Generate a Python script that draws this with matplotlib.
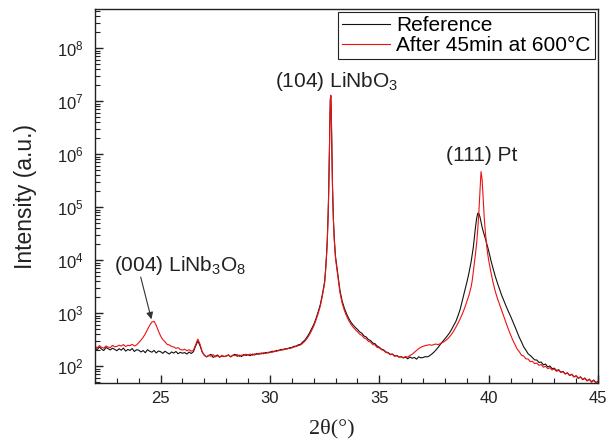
import numpy as np
import matplotlib
matplotlib.use("Agg")
import matplotlib.pyplot as plt
from matplotlib.ticker import MultipleLocator, LogLocator

plt.rcParams['font.family'] = ['Liberation Sans', 'DejaVu Sans']
plt.rcParams['mathtext.fontset'] = 'custom'
plt.rcParams['mathtext.rm'] = 'Liberation Sans'
plt.rcParams['mathtext.it'] = 'Liberation Sans:italic'
plt.rcParams['mathtext.default'] = 'regular'

# ---- sampling grid (2theta, degrees) ----
def seg(a, b, s):
    return np.round(np.arange(a, b + s / 2, s), 3)

two_theta = np.concatenate([seg(22.0, 32.4, 0.1), seg(32.5, 33.0, 0.02),
                            seg(33.1, 39.2, 0.1), seg(39.25, 40.0, 0.05),
                            seg(40.1, 45.0, 0.1)])

# ---- Reference (black) intensities ----
ref_intensity = [
    222, 205, 231, 210, 198, 226, 214, 203, 219, 208,
    196, 214, 201, 220, 193, 207, 199, 216, 190, 205,
    201, 186, 198, 180, 205, 192, 184, 199, 178, 194,
    188, 175, 192, 180, 170, 186, 177, 190, 172, 183,
    176, 181, 170, 185, 174, 188, 240, 300, 245, 185,
    162, 150, 158, 168, 147, 155, 163, 149, 157, 152,
    156, 164, 150, 160, 168, 154, 162, 152, 166, 160,
    165, 158, 170, 163, 174, 168, 178, 172, 182, 178,
    183, 192, 188, 199, 196, 208, 203, 215, 212, 224,
    226, 238, 240, 254, 260, 288, 312, 358, 418, 505,
    610, 780, 1050, 1450, 2300,
    # 32.50 - 33.00 step 0.02
    4000, 5000, 6500, 8500, 11500, 16000, 24000, 40000, 75000, 160000,
    420000, 1.3e6, 4.5e6, 1.1e7, 1.25e7, 7e6, 2.2e6, 6.5e5, 2.4e5, 1.1e5,
    6e4, 3.8e4, 2.6e4, 1.9e4, 1.45e4, 1.15e4,
    # 33.1 - 39.2
    5500, 2700, 1700, 1250, 980, 800, 680, 600, 540,
    495, 445, 420, 372, 356, 318, 305, 274, 266, 240,
    228, 210, 203, 186, 181, 168, 170, 156, 160, 148,
    152, 143, 149, 138, 150, 141, 147, 136, 151, 144,
    146, 152, 150, 158, 170, 185, 205, 230, 262, 295,
    330, 370, 420, 490, 590, 700, 900, 1200, 1750, 2600,
    3800, 5800, 9500,
    # 39.25 - 40.00 step 0.05
    13000, 18000, 28000, 43000, 62000, 77000, 76000, 66000, 53000, 42000,
    35000, 30000, 25500, 21500, 18000, 15000,
    # 40.1 - 45.0
    10000, 7000, 5000, 3700, 2800, 2150, 1700, 1350, 1080,
    880, 705, 560, 440, 350, 288, 232, 202, 172, 160,
    145, 132, 131, 118, 120, 106, 110, 97, 101, 90,
    92, 83, 86, 77, 80, 72, 75, 67, 70, 63,
    66, 59, 63, 56, 60, 53, 57, 51, 55, 49,
    52,
]

# ---- After 45 min at 600 C (red) intensities ----
ann_intensity = [
    238, 222, 245, 228, 219, 241, 230, 224, 247, 233,
    236, 250, 240, 257, 235, 248, 244, 259, 241, 252,
    280, 310, 350, 410, 490, 590, 680, 705, 590, 460,
    372, 318, 290, 258, 252, 236, 231, 218, 224, 207,
    202, 210, 196, 205, 192, 200, 255, 325, 262, 188,
    160, 151, 162, 154, 166, 150, 158, 147, 161, 153,
    155, 163, 151, 162, 158, 167, 153, 164, 158, 169,
    163, 170, 160, 172, 166, 176, 170, 180, 174, 183,
    186, 182, 194, 190, 202, 199, 210, 207, 218, 216,
    222, 230, 236, 245, 252, 272, 298, 335, 390, 465,
    570, 730, 980, 1350, 2150,
    # 32.50 - 33.00 step 0.02
    3700, 4600, 6000, 7900, 10700, 15000, 22500, 38000, 72000, 155000,
    410000, 1.25e6, 4.3e6, 1.05e7, 1.3e7, 7.5e6, 2.3e6, 6.6e5, 2.3e5, 1.05e5,
    5.6e4, 3.5e4, 2.4e4, 1.75e4, 1.35e4, 1.05e4,
    # 33.1 - 39.2
    5000, 2450, 1550, 1130, 890, 730, 620, 545, 490,
    448, 404, 382, 342, 328, 294, 286, 256, 252, 226,
    222, 205, 198, 182, 178, 165, 168, 154, 158, 150,
    150, 145, 153, 148, 160, 168, 182, 198, 215, 228,
    238, 245, 250, 255, 248, 258, 262, 255, 270, 282,
    298, 322, 355, 400, 462, 545, 650, 790, 980, 1250,
    1650, 2200, 3200,
    # 39.25 - 40.00 step 0.05
    4200, 6200, 9000, 13500, 21000, 38000, 80000, 200000, 470000, 330000,
    140000, 60000, 33000, 20000, 13500, 10000,
    # 40.1 - 45.0
    6000, 3800, 2600, 1900, 1450, 1100, 850, 650, 500,
    392, 312, 258, 212, 188, 161, 156, 138, 137, 122,
    124, 112, 115, 104, 108, 96, 100, 90, 94, 85,
    89, 80, 84, 76, 79, 71, 75, 67, 71, 63,
    66, 60, 63, 56, 59, 53, 57, 50, 54, 49,
    51,
]

series_labels = ["Reference", "After 45min at 600\u00b0C"]
peak_labels = ["(104) LiNbO$_3$", "(111) Pt", "(004) LiNb$_3$O$_8$"]
x_ticks = [25, 30, 35, 40, 45]

assert len(two_theta) == len(ref_intensity) == len(ann_intensity)

fig = plt.figure(figsize=(6.09, 4.45), dpi=100)
ax = fig.add_axes([0.156, 0.139, 0.826, 0.841])

ax.plot(two_theta, ref_intensity, color='#111111', lw=0.8, label=series_labels[0])
ax.plot(two_theta, ann_intensity, color='#ee1111', lw=0.8, label=series_labels[1])

ax.set_yscale('log')
ax.set_xlim(22, 45)
ax.set_ylim(48, 5.5e8)
ax.set_xticks(x_ticks)
ax.xaxis.set_minor_locator(MultipleLocator(1))
ax.yaxis.set_major_locator(LogLocator(base=10, numticks=20))
ax.yaxis.set_minor_locator(LogLocator(base=10, subs=np.arange(2, 10), numticks=20))

ax.tick_params(axis='both', which='both', direction='in', top=False, right=False,
               colors='#222222', labelsize=12)
ax.tick_params(axis='both', which='major', length=6, width=1.0)
ax.tick_params(axis='both', which='minor', length=3.5, width=0.8)
ax.tick_params(axis='x', pad=6)
ax.tick_params(axis='y', pad=8)
for sp in ax.spines.values():
    sp.set_linewidth(1.0)
    sp.set_color('#222222')

ax.set_ylabel('Intensity (a.u.)', fontsize=16.5, color='#222222')
ax.yaxis.set_label_coords(-0.115, 0.5)
ax.set_xlabel('2\u03b8(\u00b0)', fontsize=16, family=['Liberation Serif', 'DejaVu Serif'],
              color='#222222')
ax.xaxis.set_label_coords(0.471, -0.095)

ax.text(33.05, 2.3e7, peak_labels[0], ha='center', va='center', fontsize=15, color='#222222')
ax.text(39.68, 9.6e5, peak_labels[1], ha='center', va='center', fontsize=15, color='#222222')
ax.text(25.9, 8100, peak_labels[2], ha='center', va='center', fontsize=15, color='#222222')
ax.annotate('', xy=(24.58, 770), xytext=(24.09, 4800),
            arrowprops=dict(arrowstyle='-|>', color='#333333', lw=0.8,
                            mutation_scale=10, shrinkA=0, shrinkB=0))

leg = ax.legend(loc='upper right', fontsize=15, frameon=True, fancybox=False,
                framealpha=1, edgecolor='#222222', borderaxespad=0.15,
                handlelength=2.3, handletextpad=0.3, borderpad=0.2,
                labelspacing=0.05)
leg.get_frame().set_linewidth(0.8)
for line in leg.get_lines():
    line.set_linewidth(0.8)

fig.savefig('out.png', dpi=100)
